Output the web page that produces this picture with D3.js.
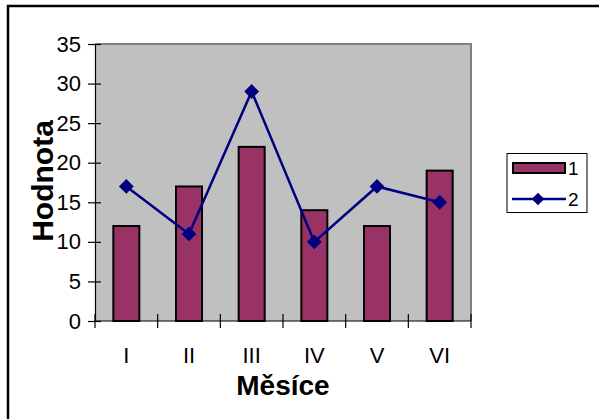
<!DOCTYPE html>
<html><head><meta charset="utf-8">
<script src="https://cdn.jsdelivr.net/npm/d3@7"></script>
<style>body{margin:0;background:#fff}svg{display:block}text{font-family:"Liberation Sans",Arial,sans-serif}</style>
</head><body>
<script>
const categories = ["I","II","III","IV","V","VI"];
const series1 = [12,17,22,14,12,19];
const series2 = [17,11,29,10,17,15];
const yTicks = [0,5,10,15,20,25,30,35];
const legendLabels = ["1","2"];

const W=599,H=419;
const svg=d3.select("body").append("svg").attr("width",W).attr("height",H);
svg.append("rect").attr("width",W).attr("height",H).attr("fill","#fff");
svg.append("path").attr("d","M8,419 V6 H599").attr("fill","none").attr("stroke","#000").attr("stroke-width",2.5);

const L=95,R=471,T=44,B=321;
const xc=d3.scalePoint().domain(categories).range([L,R]).padding(0.5);
const y=d3.scaleLinear().domain([0,35]).range([B,T]);

svg.append("rect").attr("x",L).attr("y",T).attr("width",R-L).attr("height",B-T).attr("fill","#C0C0C0");
svg.append("path").attr("d",`M${L},${T} H${R} V${B}`).attr("fill","none").attr("stroke","#808080").attr("stroke-width",2);

const bw=26;
svg.selectAll("rect.bar").data(series1).join("rect").attr("class","bar")
 .attr("x",(d,i)=>xc(categories[i])-bw/2).attr("y",d=>y(d)).attr("width",bw).attr("height",d=>B-y(d))
 .attr("fill","#993366").attr("stroke","#000").attr("stroke-width",2);

const ya=d3.axisLeft(y).tickValues(yTicks).tickSize(0).tickPadding(14);
const gy=svg.append("g").attr("transform",`translate(${L},0)`).call(ya);
gy.select(".domain").attr("stroke","#000").attr("stroke-width",1.2);
gy.selectAll("text").attr("font-size",22).attr("fill","#000");
gy.selectAll(".tick").append("line").attr("x1",-7).attr("x2",6).attr("stroke","#000").attr("stroke-width",1.2);

const gx=svg.append("g").attr("transform",`translate(0,${B})`);
gx.append("line").attr("x1",L).attr("x2",R).attr("stroke","#000").attr("stroke-width",1.2);
const step=(R-L)/categories.length;
d3.range(categories.length+1).forEach(i=>{
  gx.append("line").attr("x1",L+i*step).attr("x2",L+i*step).attr("y1",-7).attr("y2",7).attr("stroke","#000").attr("stroke-width",1.2);
});
gx.selectAll("text").data(categories).join("text").attr("x",d=>xc(d)).attr("y",42).attr("text-anchor","middle")
 .attr("font-size",22).text(d=>d);

svg.append("path").datum(series2).attr("fill","none").attr("stroke","#000080").attr("stroke-width",2.5)
 .attr("d",d3.line().x((d,i)=>xc(categories[i])).y(d=>y(d)));
svg.selectAll("path.pt").data(series2).join("path").attr("class","pt")
 .attr("transform",(d,i)=>`translate(${xc(categories[i])},${y(d)}) rotate(45)`)
 .attr("d",d3.symbol().type(d3.symbolSquare).size(110)).attr("fill","#000080");

svg.append("text").attr("transform","translate(53,181) rotate(-90)").attr("text-anchor","middle")
 .attr("font-size",30).attr("font-weight","bold").text("Hodnota");
svg.append("text").attr("x",283).attr("y",395).attr("text-anchor","middle")
 .attr("font-size",28).attr("font-weight","bold").text("Měsíce");

const lg=svg.append("g");
lg.append("rect").attr("x",507).attr("y",153.5).attr("width",80).attr("height",59).attr("fill","#fff").attr("stroke","#000").attr("stroke-width",1);
lg.append("rect").attr("x",513).attr("y",163).attr("width",52).attr("height",10).attr("fill","#993366").attr("stroke","#000").attr("stroke-width",2);
lg.append("line").attr("x1",512).attr("x2",566).attr("y1",199).attr("y2",199).attr("stroke","#000080").attr("stroke-width",2.5);
lg.append("path").attr("transform","translate(538,199) rotate(45)").attr("d",d3.symbol().type(d3.symbolSquare).size(80)).attr("fill","#000080");
lg.selectAll("text").data(legendLabels).join("text").attr("x",568).attr("y",(d,i)=>i?206:175).attr("font-size",19).text(d=>d);
</script>
</body></html>
